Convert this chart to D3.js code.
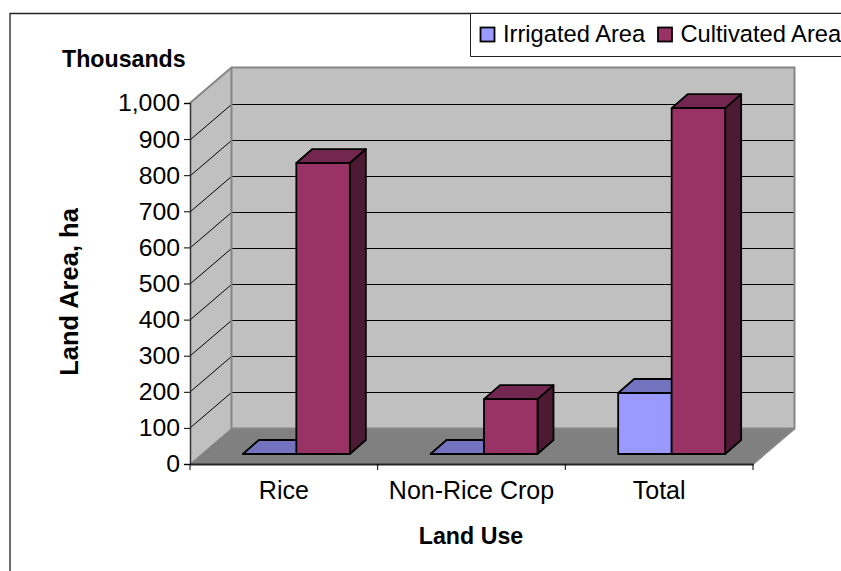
<!DOCTYPE html>
<html>
<head>
<meta charset="utf-8">
<script src="https://d3js.org/d3.v7.min.js"></script>
<style>
  body { margin: 0; background: #fff; }
  svg { display: block; font-family: "Liberation Sans", Arial, sans-serif; }
</style>
</head>
<body>
<div class="canva"></div>
<script>
//chart data
const categories = ['Rice', 'Non-Rice Crop', 'Total'];
const seriesNames = ['Irrigated Area', 'Cultivated Area'];
const irrigated = [0, 0, 169];
const cultivated = [806, 152, 958];
const yTicks = [0, 100, 200, 300, 400, 500, 600, 700, 800, 900, 1000];

const fills = {
    'Irrigated Area': {front: '#9999ff', top: '#7373bf', side: '#4d4d80'},
    'Cultivated Area': {front: '#993366', top: '#732650', side: '#4d1a33'}
};

const svg = d3.select('.canva').append('svg')
              .attr('width', 841)
              .attr('height', 571);

//front plane of the chart box
const x0 = 190, x1 = 753, yBase = 464, yTop = 103;
//how far the back wall is pushed
const wallDx = 41.5, wallDy = -35.5;
//the bars stand a bit in from the front edge
const barDx = 12.5, barDy = -10;
//depth of one bar
const depthX = 16, depthY = -14;

const x = d3.scaleBand().domain(categories).range([x0, x1]);
const bar = d3.scaleBand().domain(seriesNames).range([-53.5, 53.5]);
const y = d3.scaleLinear().domain([0, 1000]).range([yBase, yTop]);

const pts = arr => arr.map(p => p.join(',')).join(' ');

//chart frame
svg.append('path')
   .attr('d', 'M10,571V13.5H841')
   .attr('fill', 'none')
   .attr('stroke', '#222')
   .attr('stroke-width', 1.3);

//left wall, back wall and floor
svg.append('polygon')
   .attr('points', pts([[x0, yTop], [x0 + wallDx, yTop + wallDy], [x0 + wallDx, yBase + wallDy], [x0, yBase]]))
   .attr('fill', '#c0c0c0');
svg.append('rect')
   .attr('x', x0 + wallDx).attr('y', yTop + wallDy)
   .attr('width', x1 - x0).attr('height', yBase - yTop)
   .attr('fill', '#c0c0c0');
svg.append('polygon')
   .attr('points', pts([[x0, yBase], [x0 + wallDx, yBase + wallDy], [x1 + wallDx, yBase + wallDy], [x1, yBase]]))
   .attr('fill', '#808080');

//gridlines on both walls
const grid = svg.append('g');
yTicks.slice(1, -1).forEach(t => {
    //keep the back wall part on a whole pixel row so it stays thin
    const backY = Math.round(y(t) + wallDy) + 0.5;
    grid.append('path')
        .attr('d', `M${x0},${backY - wallDy}L${x0 + wallDx},${backY}H${x1 + wallDx}`)
        .attr('fill', 'none')
        .attr('stroke', '#000')
        .attr('stroke-width', 1);
});

//wall edges
svg.append('path')
   .attr('d', `M${x0},${yTop}L${x0 + wallDx},${yTop + wallDy}H${x1 + wallDx}V${yBase + wallDy}L${x1},${yBase}`)
   .attr('fill', 'none')
   .attr('stroke', '#868686')
   .attr('stroke-width', 2);
svg.append('path')
   .attr('d', `M${x0 + wallDx},${yTop + wallDy}V${yBase + wallDy}H${x1 + wallDx}`)
   .attr('fill', 'none')
   .attr('stroke', '#868686')
   .attr('stroke-width', 2);
svg.append('line')
   .attr('x1', x0).attr('x2', x0 + wallDx)
   .attr('y1', yBase).attr('y2', yBase + wallDy)
   .attr('stroke', '#868686');

//bars, one group per series
const barGroup = svg.append('g')
                    .attr('stroke', '#000')
                    .attr('stroke-width', 1.8)
                    .attr('stroke-linejoin', 'round');

function drawBars(name, values) {
    const c = fills[name];
    values.forEach((v, i) => {
        const left = x(categories[i]) + x.bandwidth() / 2 + barDx + bar(name);
        const right = left + bar.bandwidth();
        const top = y(v) + barDy;
        const bottom = y(0) + barDy;
        //side
        barGroup.append('polygon')
            .attr('points', pts([[right, top], [right + depthX, top + depthY], [right + depthX, bottom + depthY], [right, bottom]]))
            .attr('fill', c.side);
        //top
        barGroup.append('polygon')
            .attr('points', pts([[left, top], [left + depthX, top + depthY], [right + depthX, top + depthY], [right, top]]))
            .attr('fill', c.top);
        //front
        barGroup.append('rect')
            .attr('x', left).attr('y', top)
            .attr('width', right - left).attr('height', bottom - top)
            .attr('fill', c.front);
    });
}
drawBars('Irrigated Area', irrigated);
drawBars('Cultivated Area', cultivated);

//axes
const yAxis = d3.axisLeft(y)
                .tickValues(yTicks)
                .tickFormat(d3.format(','))
                .tickSize(6)
                .tickPadding(4);
const yAxisGroup = svg.append('g')
                      .attr('transform', `translate(${x0}, 0)`)
                      .call(yAxis);
yAxisGroup.selectAll('text')
          .attr('font-family', '"Liberation Sans", Arial, sans-serif')
          .attr('font-size', 24.8)
          .attr('fill', '#000');
yAxisGroup.select('.domain').attr('stroke', '#333').attr('stroke-width', 1.5);

const xAxis = d3.axisBottom(x).tickSize(0).tickPadding(17);
const xAxisGroup = svg.append('g')
                      .attr('transform', `translate(0, ${yBase})`)
                      .call(xAxis);
xAxisGroup.selectAll('text')
          .attr('font-family', '"Liberation Sans", Arial, sans-serif')
          .attr('font-size', 25)
          .attr('fill', '#000');
xAxisGroup.select('.domain').attr('stroke', '#222').attr('stroke-width', 2);

//category separators below the floor
[x0, x0 + x.bandwidth(), x0 + 2 * x.bandwidth(), x1].forEach(tx => {
    svg.append('line')
       .attr('x1', tx).attr('x2', tx)
       .attr('y1', yBase).attr('y2', yBase + 6)
       .attr('stroke', '#000');
});

//titles
svg.append('text').attr('x', 62).attr('y', 67)
   .attr('font-size', 23.2).attr('font-weight', 'bold').text('Thousands');
svg.append('text').attr('transform', 'translate(78, 292) rotate(-90)')
   .attr('text-anchor', 'middle')
   .attr('font-size', 25.5).attr('font-weight', 'bold').text('Land Area, ha');
svg.append('text').attr('x', 471).attr('y', 544)
   .attr('text-anchor', 'middle')
   .attr('font-size', 23.2).attr('font-weight', 'bold').text('Land Use');

//legend
svg.append('path')
   .attr('d', 'M841,13.5H470.5V56.5H841')
   .attr('fill', '#fff')
   .attr('stroke', '#222');
const legendX = [480.5, 658];
seriesNames.forEach((name, i) => {
    svg.append('rect')
       .attr('x', legendX[i]).attr('y', 27.5)
       .attr('width', 14).attr('height', 14)
       .attr('fill', fills[name].front)
       .attr('stroke', '#000').attr('stroke-width', 1.8);
    svg.append('text')
       .attr('x', legendX[i] + 22.5).attr('y', 42)
       .attr('font-size', 23.7).text(name);
});
</script>
</body>
</html>
